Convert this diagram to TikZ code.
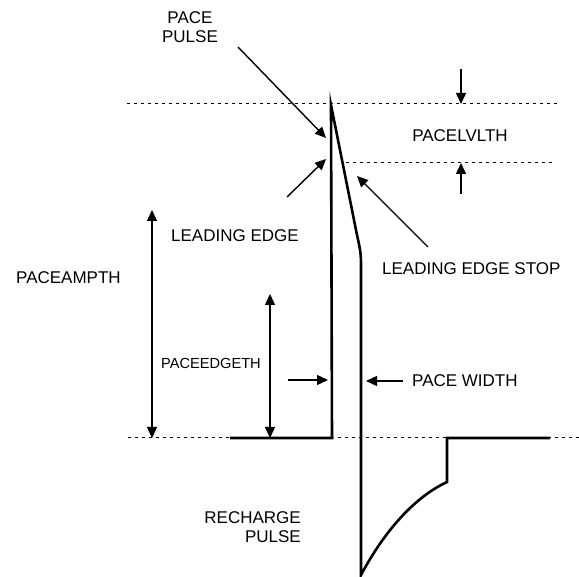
\documentclass[tikz,border=0pt]{standalone}
\usepackage{fontspec}
\setmainfont{Liberation Sans}
\usetikzlibrary{arrows.meta}
\begin{document}
\begin{tikzpicture}[x=1pt,y=-1pt,
  lbl/.style={font=\fontsize{17}{19.5}\selectfont, inner sep=0pt},
  smalllbl/.style={font=\fontsize{14.6}{17}\selectfont, inner sep=0pt},
  guide/.style={line width=1pt, dash pattern=on 3pt off 4pt},
  pulse/.style={line width=2.6pt, line join=miter, miter limit=40},
  arr/.style={line width=1.4pt, -{Triangle[length=11pt,width=10pt]}},
  darr/.style={line width=1.4pt, {Triangle[length=11pt,width=10pt]}-{Triangle[length=11pt,width=10pt]}}]
\useasboundingbox (0,0) rectangle (579,577);
% guide lines
\draw[guide] (127,104) -- (558,104);
\draw[guide] (346,163) -- (554,163);
\draw[guide] (128,438) -- (579,438);
% pulse
\draw[pulse] (230,438) -- (332,438) -- (331,105) -- (356,230)
  .. controls (359,245) and (361,250) .. (361,264) -- (361,575)
  .. controls (385,530) and (415,497) .. (447,482) -- (447,438) -- (550,438);
% labels
\node[lbl, align=center] (pp) at (190,27) {PACE\\PULSE};
\node[lbl, anchor=west] (le) at (171,236) {LEADING EDGE};
\node[lbl] (lv) at (460,136) {PACELVLTH};
\node[lbl, anchor=west] (les) at (382,269) {LEADING EDGE STOP};
\node[lbl, anchor=west] (pa) at (16,278) {PACEAMPTH};
\node[smalllbl, anchor=west] (pe) at (161,363) {PACEEDGETH};
\node[lbl, anchor=west] (pw) at (412,381) {PACE WIDTH};
\node[lbl, align=right, anchor=east] (rp) at (301,527) {RECHARGE\\PULSE};
% coordinates
\coordinate (ppT) at (238,47);  \coordinate (ppH) at (326,138);
\coordinate (leT) at (287,197); \coordinate (leH) at (326,159);
\coordinate (lesT) at (428,247); \coordinate (lesH) at (357,176);
\coordinate (lvT1) at (461,69); \coordinate (lvH1) at (461,104);
\coordinate (lvT2) at (461,194); \coordinate (lvH2) at (461,163);
\coordinate (paA) at (152,210); \coordinate (paB) at (152,438);
\coordinate (peA) at (270,294); \coordinate (peB) at (270,438);
\coordinate (pwT1) at (288,380); \coordinate (pwH1) at (328,380);
\coordinate (pwT2) at (403,381); \coordinate (pwH2) at (366,381);
% arrows
\draw[arr] (ppT) -- (ppH);
\draw[arr] (leT) -- (leH);
\draw[arr] (lesT) -- (lesH);
\draw[arr] (lvT1) -- (lvH1);
\draw[arr] (lvT2) -- (lvH2);
\draw[darr] (paA) -- (paB);
\draw[darr] (peA) -- (peB);
\draw[arr] (pwT1) -- (pwH1);
\draw[arr] (pwT2) -- (pwH2);
\end{tikzpicture}
\end{document}
